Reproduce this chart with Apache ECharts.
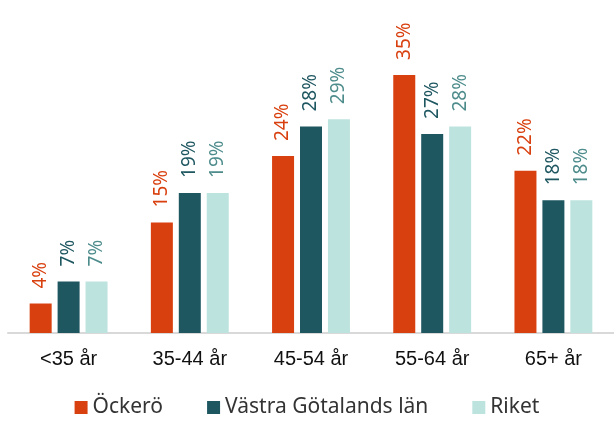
<!DOCTYPE html>
<html>
<head>
<meta charset="utf-8">
<script src="https://cdn.jsdelivr.net/npm/echarts@6/dist/echarts.min.js"></script>
<style>
  html, body { margin: 0; padding: 0; background: #fff; }
  #chart { width: 614px; height: 424px; }
</style>
</head>
<body>
<div id="chart"></div>
<script>
// åldersgrupper
var categories = ['<35 år', '35-44 år', '45-54 år', '55-64 år', '65+ år']
var ockero = [4, 15, 24, 35, 22]
var vastra = [7, 19, 28, 27, 18]
var riket = [7, 19, 29, 28, 18]

var labelFont = 'Noto Sans'
function barLabel (color) {
  return {
    show: true,
    position: 'top',
    rotate: 90,
    align: 'left',
    verticalAlign: 'middle',
    distance: 15,
    formatter: '{c}%',
    color: color,
    fontSize: 19,
    fontFamily: labelFont
  }
}

const myChart = echarts.init(document.getElementById('chart'))
var option = {
  animation: false,
  grid: {
    left: 8,
    right: 0,
    top: 38,
    bottom: 91
  },
  legend: {
    bottom: 1,
    itemWidth: 13,
    itemHeight: 13,
    itemGap: 44,
    icon: 'rect',
    textStyle: { fontSize: 21, color: '#333', fontFamily: labelFont },
    data: ['Öckerö', 'Västra Götalands län', 'Riket']
  },
  xAxis: {
    type: 'category',
    data: categories,
    axisLine: { lineStyle: { color: '#d9d9d9', width: 2 } },
    axisTick: { show: false },
    axisLabel: { fontSize: 20, color: '#111', margin: 16, fontFamily: 'Liberation Sans' }
  },
  yAxis: {
    type: 'value',
    min: 0,
    max: 40,
    show: false
  },
  series: [
    {
      name: 'Öckerö',
      type: 'bar',
      barWidth: 22,
      barGap: '27%',
      barCategoryGap: '35%',
      itemStyle: { color: '#D9400F' },
      label: barLabel('#D9400F'),
      data: ockero
    },
    {
      name: 'Västra Götalands län',
      type: 'bar',
      barWidth: 22,
      barGap: '27%',
      itemStyle: { color: '#1F5761' },
      label: barLabel('#1F5761'),
      data: vastra
    },
    {
      name: 'Riket',
      type: 'bar',
      barWidth: 22,
      barGap: '27%',
      itemStyle: { color: '#BDE3DF' },
      label: barLabel('#4E8C8C'),
      data: riket
    }
  ]
}
myChart.setOption(option)
</script>
</body>
</html>
